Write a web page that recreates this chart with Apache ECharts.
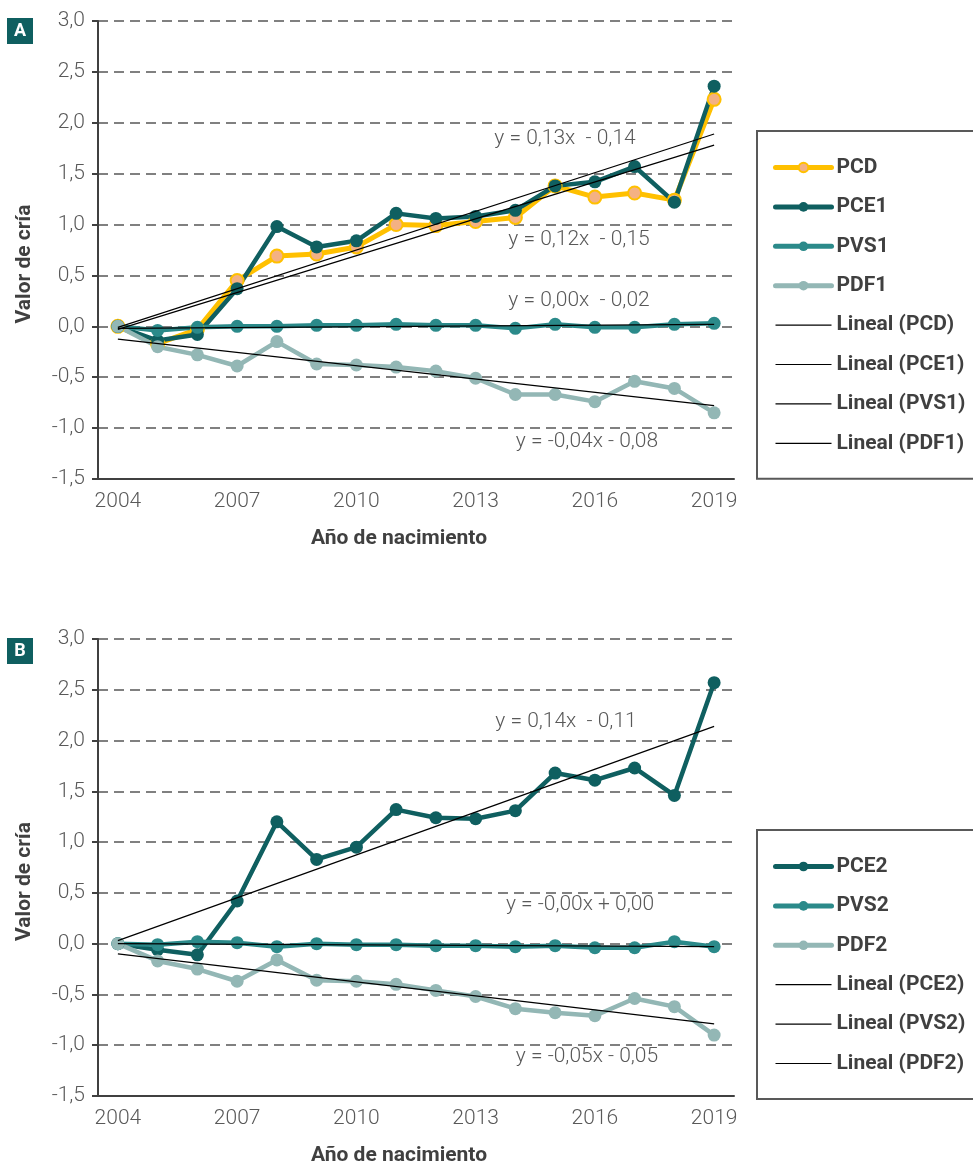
<!DOCTYPE html>
<html>
<head>
<meta charset="utf-8">
<script src="https://cdn.jsdelivr.net/npm/echarts@6/dist/echarts.min.js"></script>
<style>
html,body{margin:0;padding:0;background:#fff;}
#main{width:973px;height:1167px;}
</style>
</head>
<body>
<div id="main"></div>
<script>
// años de nacimiento
var years = ['2004','2005','2006','2007','2008','2009','2010','2011','2012','2013','2014','2015','2016','2017','2018','2019'];

// panel A
var PCD  = [0, -0.17, -0.03, 0.45, 0.69, 0.71, 0.78, 1.00, 0.99, 1.03, 1.07, 1.38, 1.27, 1.31, 1.24, 2.23];
var PCE1 = [0, -0.14, -0.08, 0.37, 0.98, 0.78, 0.84, 1.11, 1.06, 1.08, 1.14, 1.38, 1.42, 1.57, 1.22, 2.36];
var PVS1 = [0, -0.04, -0.01, 0.00, 0.00, 0.01, 0.01, 0.02, 0.01, 0.01, -0.02, 0.02, -0.01, -0.01, 0.02, 0.03];
var PDF1 = [0, -0.20, -0.28, -0.39, -0.15, -0.37, -0.38, -0.40, -0.44, -0.51, -0.67, -0.67, -0.74, -0.54, -0.61, -0.85];
// lineas de tendencia (inicio 2004, fin 2019)
var trendPCD  = [-0.03, 1.78];
var trendPCE1 = [-0.01, 1.89];
var trendPVS1 = [-0.02, 0.02];
var trendPDF1 = [-0.125, -0.78];

// panel B
var PCE2 = [0, -0.06, -0.11, 0.42, 1.20, 0.83, 0.95, 1.32, 1.24, 1.23, 1.31, 1.68, 1.61, 1.73, 1.46, 2.57];
var PVS2 = [0, -0.01, 0.02, 0.01, -0.03, 0.00, -0.01, -0.01, -0.02, -0.02, -0.03, -0.02, -0.04, -0.04, 0.02, -0.03];
var PDF2 = [0, -0.17, -0.25, -0.37, -0.16, -0.36, -0.37, -0.40, -0.46, -0.52, -0.64, -0.68, -0.71, -0.54, -0.62, -0.90];
var trendPCE2 = [0.03, 2.14];
var trendPVS2 = [0.00, -0.03];
var trendPDF2 = [-0.10, -0.79];

// ecuaciones
var eqA = ['y = 0,13x  - 0,14', 'y = 0,12x  - 0,15', 'y = 0,00x  - 0,02', 'y = -0,04x - 0,08'];
var eqB = ['y = 0,14x  - 0,11', 'y = -0,00x + 0,00', 'y = -0,05x - 0,05'];

var cYellow = '#FFC000', cPeach = '#F4B183', cDark = '#0F5F60', cTeal = '#2B8A8A', cLight = '#93B7B5';
var txt = '#595959', axisCol = '#404040';

var dom = document.getElementById('main');
var myChart = echarts.init(dom);

function fmt(v) { return v.toFixed(1).replace('.', ','); }

function xAx(gi) {
	return {
		type: 'category', gridIndex: gi, data: years,
		name: 'Año de nacimiento', nameLocation: 'middle', nameGap: 49,
		nameTextStyle: { color: axisCol, fontFamily: 'Roboto', fontWeight: 'bold', fontSize: 21, padding: [0, 34, 0, 0] },
		axisLine: { onZero: false, lineStyle: { color: axisCol, width: 2 } },
		axisTick: { interval: 0, length: 5, lineStyle: { color: axisCol, width: 2 } },
		axisLabel: { interval: 2, margin: 12, color: txt, fontFamily: 'Roboto', fontWeight: 300, fontSize: 21 },
		splitLine: { show: false }
	};
}
function yAx(gi) {
	return {
		type: 'value', gridIndex: gi, min: -1.5, max: 3, interval: 0.5,
		name: 'Valor de cría', nameLocation: 'middle', nameGap: 63, nameRotate: 90,
		nameTextStyle: { color: axisCol, fontFamily: 'Roboto', fontWeight: 'bold', fontSize: 21, padding: [0, 28, 0, 0] },
		axisLine: { show: true, lineStyle: { color: axisCol, width: 2 } },
		axisTick: { show: true, length: 6, lineStyle: { color: axisCol, width: 2 } },
		axisLabel: { formatter: fmt, margin: 13, color: txt, fontFamily: 'Roboto', fontWeight: 300, fontSize: 21 },
		splitLine: { show: true, lineStyle: { color: '#808080', width: 2, type: [10, 6] } }
	};
}
function dataSerie(name, data, color, fill, width, idx) {
	return {
		name: name, type: 'line', xAxisIndex: idx, yAxisIndex: idx, data: data,
		symbol: 'circle', symbolSize: 13, showSymbol: true,
		lineStyle: { color: color, width: width },
		itemStyle: { color: fill, borderColor: color, borderWidth: fill === color ? 0 : 2 },
		emphasis: { disabled: true }, z: 3
	};
}
function trendSerie(name, ends, idx) {
	return {
		name: name, type: 'line', xAxisIndex: idx, yAxisIndex: idx,
		data: [[years[0], ends[0]], [years[years.length - 1], ends[1]]],
		symbol: 'none', lineStyle: { color: '#000', width: 1.2 }, itemStyle: { color: '#000' },
		emphasis: { disabled: true }, z: 5
	};
}
function eqText(s, x, y) {
	return { type: 'text', x: x, y: y, style: { text: s, fill: txt, font: '300 21px Roboto', align: 'center', verticalAlign: 'middle' } };
}
function tag(letter, y) {
	return {
		type: 'group', children: [
			{ type: 'rect', shape: { x: 7, y: y, width: 26, height: 26 }, style: { fill: cDark } },
			{ type: 'text', x: 20, y: y + 13, style: { text: letter, fill: '#fff', font: 'bold 18px Roboto', align: 'center', verticalAlign: 'middle' } }
		]
	};
}
function legData(names, trends) {
	var out = names.map(function (n) { return { name: n, lineStyle: { width: 5, cap: 'round' } }; });
	trends.forEach(function (n) { out.push({ name: n, itemStyle: { opacity: 0 }, lineStyle: { width: 1.2 } }); });
	return out;
}
var legendBase = {
	orient: 'vertical', left: 757, padding: [26, 40, 25, 16],
	borderColor: '#595959', borderWidth: 2,
	itemWidth: 56, itemHeight: 12, itemGap: 18.4, selectedMode: false,
	textStyle: { color: axisCol, fontFamily: 'Roboto', fontWeight: 'bold', fontSize: 21, lineHeight: 20 }
};

var option = {
	animation: false,
	backgroundColor: '#fff',
	grid: [
		{ left: 98, top: 21, width: 636, height: 458 },
		{ left: 98, top: 639, width: 636, height: 458 }
	],
	xAxis: [xAx(0), xAx(1)],
	yAxis: [yAx(0), yAx(1)],
	legend: [
		Object.assign({}, legendBase, { top: 131, data: legData(['PCD', 'PCE1', 'PVS1', 'PDF1'], ['Lineal (PCD)', 'Lineal (PCE1)', 'Lineal (PVS1)', 'Lineal (PDF1)']) }),
		Object.assign({}, legendBase, { top: 830, data: legData(['PCE2', 'PVS2', 'PDF2'], ['Lineal (PCE2)', 'Lineal (PVS2)', 'Lineal (PDF2)']) })
	],
	graphic: [
		tag('A', 18), tag('B', 638),
		eqText(eqA[0], 565, 139), eqText(eqA[1], 579, 240), eqText(eqA[2], 579, 301), eqText(eqA[3], 587, 442),
		eqText(eqB[0], 566, 722), eqText(eqB[1], 580, 905), eqText(eqB[2], 587, 1057)
	],
	series: [
		dataSerie('PCD', PCD, cYellow, cPeach, 5, 0),
		dataSerie('PCE1', PCE1, cDark, cDark, 4.5, 0),
		dataSerie('PVS1', PVS1, cTeal, cTeal, 4.5, 0),
		dataSerie('PDF1', PDF1, cLight, cLight, 4.5, 0),
		trendSerie('Lineal (PCD)', trendPCD, 0),
		trendSerie('Lineal (PCE1)', trendPCE1, 0),
		trendSerie('Lineal (PVS1)', trendPVS1, 0),
		trendSerie('Lineal (PDF1)', trendPDF1, 0),
		dataSerie('PCE2', PCE2, cDark, cDark, 4.5, 1),
		dataSerie('PVS2', PVS2, cTeal, cTeal, 4.5, 1),
		dataSerie('PDF2', PDF2, cLight, cLight, 4.5, 1),
		trendSerie('Lineal (PCE2)', trendPCE2, 1),
		trendSerie('Lineal (PVS2)', trendPVS2, 1),
		trendSerie('Lineal (PDF2)', trendPDF2, 1)
	]
};
myChart.setOption(option, true);
</script>
</body>
</html>
